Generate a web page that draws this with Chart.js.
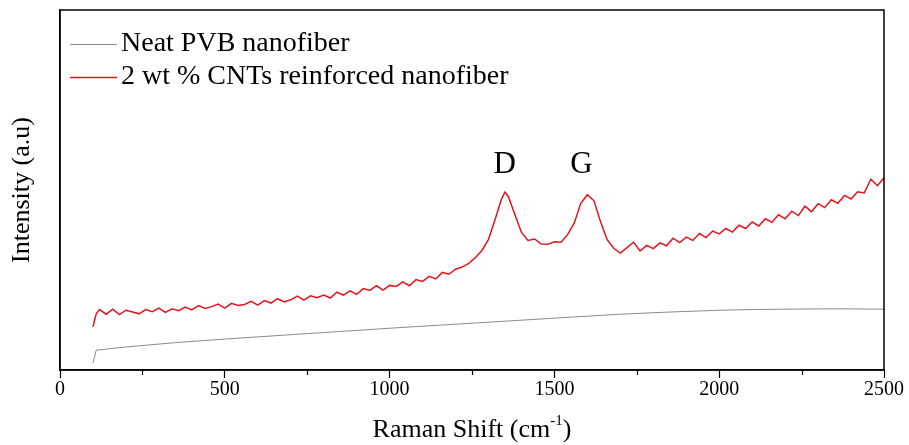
<!DOCTYPE html>
<html>
<head>
<meta charset="utf-8">
<script src="https://cdn.jsdelivr.net/npm/chart.js@4.4.1/dist/chart.umd.min.js"></script>
<style>
  html, body { margin: 0; padding: 0; background: #ffffff; }
  #wrap { width: 909px; height: 445px; }
</style>
</head>
<body>
<div id="wrap"><canvas id="c" width="909" height="445"></canvas></div>
<script>
// ---- Data (intensity in arbitrary units, 0–100 scale) ----
const seriesLabels = ['Neat PVB nanofiber', '2 wt % CNTs reinforced nanofiber'];

const pvbShift     = [100, 110, 200, 350, 500, 750, 1000, 1250, 1500, 1700, 1850, 2000, 2100, 2200, 2350, 2500];
const pvbIntensity = [1.9, 5.5, 6.4, 7.6, 8.6, 10.1, 11.6, 13.0, 14.4, 15.5, 16.1, 16.6, 16.8, 16.9, 17.0, 16.9];

const cntShift = [100, 110, 120, 140, 160, 180, 200, 220, 240, 260, 280, 300, 320, 340, 360, 380, 400, 420, 440, 460, 480,
  500, 520, 540, 560, 580, 600, 620, 640, 660, 680, 700, 720, 740, 760, 780, 800, 820, 840, 860, 880,
  900, 920, 940, 960, 980, 1000, 1020, 1040, 1060, 1080, 1100, 1120, 1140, 1160, 1180, 1200, 1220, 1240, 1260, 1280,
  1300, 1320, 1340, 1350, 1360, 1380, 1400, 1420, 1440, 1460, 1480, 1500, 1520, 1540, 1560, 1580, 1600, 1620, 1640, 1660, 1680,
  1700, 1720, 1740, 1760, 1780, 1800, 1820, 1840, 1860, 1880, 1900, 1920, 1940, 1960, 1980, 2000, 2020, 2040, 2060, 2080,
  2100, 2120, 2140, 2160, 2180, 2200, 2220, 2240, 2260, 2280, 2300, 2320, 2340, 2360, 2380, 2400, 2420, 2440, 2460, 2480, 2500];
const cntIntensity = [12.0, 15.7, 16.8, 15.5, 16.9, 15.4, 16.6, 16.1, 15.6, 16.8, 16.2, 17.2, 16.0, 17.0, 16.5, 17.5, 16.7, 17.9, 17.1, 17.6, 18.3,
  17.2, 18.5, 17.9, 18.2, 19.1, 18.0, 19.3, 18.6, 19.8, 18.9, 19.5, 20.5, 19.4, 20.6, 20.1, 20.8, 20.0, 21.6, 20.8, 22.0,
  21.0, 22.6, 22.1, 23.4, 22.2, 23.5, 23.2, 24.5, 23.4, 25.1, 24.6, 26.0, 25.3, 27.1, 26.6, 28.0, 28.6, 29.6, 31.2, 33.2,
  36.3, 41.8, 47.6, 49.4, 48.2, 43.2, 38.2, 36.0, 36.4, 35.0, 34.9, 35.6, 35.5, 37.6, 40.8, 46.3, 48.7, 47.0, 41.2, 36.2, 33.8,
  32.5, 34.0, 35.5, 33.1, 34.6, 33.7, 35.3, 34.5, 36.6, 35.4, 36.9, 36.0, 37.9, 36.8, 38.6, 37.8, 39.3, 38.3, 40.2, 39.3,
  41.1, 40.0, 42.0, 41.0, 43.1, 42.0, 44.1, 42.9, 45.5, 44.0, 46.2, 45.1, 47.3, 46.3, 48.5, 47.5, 49.5, 49.2, 53.0, 51.2, 53.4];

const xMajorTicks = [0, 500, 1000, 1500, 2000, 2500];
const xMinorTicks = [250, 750, 1250, 1750, 2250];

const peakLabels = ['D', 'G'];
const peakShift  = [1349, 1582];
const peakLabelLevel = 57;

const SERIF = "'Liberation Serif', 'Times New Roman', serif";

const framePlugin = {
  id: 'frame',
  afterDraw(chart) {
    const { ctx, chartArea: a, scales } = chart;
    const xs = scales.x, ys = scales.y;
    ctx.save();
    // box
    ctx.strokeStyle = '#000';
    ctx.lineWidth = 1.5;
    ctx.strokeRect(a.left, a.top, a.right - a.left, a.bottom - a.top);
    // minor ticks
    ctx.lineWidth = 1.2;
    xMinorTicks.forEach(v => {
      const px = Math.round(xs.getPixelForValue(v)) + 0.5;
      ctx.beginPath();
      ctx.moveTo(px, a.bottom);
      ctx.lineTo(px, a.bottom + 5);
      ctx.stroke();
    });
    // peak labels
    ctx.fillStyle = '#000';
    ctx.font = '31px ' + SERIF;
    ctx.textAlign = 'center';
    ctx.textBaseline = 'middle';
    peakLabels.forEach((t, i) => {
      ctx.fillText(t, xs.getPixelForValue(peakShift[i]), ys.getPixelForValue(peakLabelLevel));
    });
    // legend
    ctx.font = '28px ' + SERIF;
    ctx.textAlign = 'left';
    chart.data.datasets.forEach((ds, i) => {
      const y = Math.round(a.top + 34 + i * 33);
      ctx.strokeStyle = ds.borderColor;
      ctx.lineWidth = i === 0 ? 1 : 1.5;
      ctx.beginPath();
      ctx.moveTo(a.left + 10, y + 0.5);
      ctx.lineTo(a.left + 57, y + 0.5);
      ctx.stroke();
      ctx.fillText(ds.label, a.left + 61, y);
    });
    // x axis title with superscript
    const cx = (a.left + a.right) / 2;
    const ty = 428;
    ctx.font = '26px ' + SERIF;
    const part1 = 'Raman Shift (cm';
    const sup = '-1';
    const part3 = ')';
    const w1 = ctx.measureText(part1).width;
    const w3 = ctx.measureText(part3).width;
    ctx.font = '15px ' + SERIF;
    const w2 = ctx.measureText(sup).width;
    let x0 = cx - (w1 + w2 + w3) / 2;
    ctx.textBaseline = 'alphabetic';
    ctx.font = '26px ' + SERIF;
    ctx.fillText(part1, x0, ty + 9);
    ctx.font = '15px ' + SERIF;
    ctx.fillText(sup, x0 + w1, ty - 3);
    ctx.font = '26px ' + SERIF;
    ctx.fillText(part3, x0 + w1 + w2, ty + 9);
    // y axis title
    ctx.save();
    ctx.translate(22, (a.top + a.bottom) / 2);
    ctx.rotate(-Math.PI / 2);
    ctx.textAlign = 'center';
    ctx.textBaseline = 'middle';
    ctx.font = '26px ' + SERIF;
    ctx.fillText('Intensity (a.u)', 0, 0);
    ctx.restore();
    ctx.restore();
  }
};

new Chart(document.getElementById('c'), {
  type: 'line',
  data: {
    datasets: [
      {
        label: seriesLabels[0],
        data: pvbShift.map((x, i) => ({ x, y: pvbIntensity[i] })),
        borderColor: '#8a8a8a',
        borderWidth: 1,
        pointRadius: 0,
        tension: 0
      },
      {
        label: seriesLabels[1],
        data: cntShift.map((x, i) => ({ x, y: cntIntensity[i] })),
        borderColor: '#e4141e',
        borderWidth: 1.5,
        pointRadius: 0,
        tension: 0
      }
    ]
  },
  options: {
    responsive: false,
    animation: false,
    layout: { padding: { top: 10, right: 25, left: 0, bottom: 0 } },
    plugins: { legend: { display: false }, tooltip: { enabled: false } },
    scales: {
      x: {
        type: 'linear',
        min: 0, max: 2500,
        afterBuildTicks: s => { s.ticks = xMajorTicks.map(v => ({ value: v })); },
        afterFit: s => { s.height = 75; },
        ticks: { color: '#000', font: { family: SERIF, size: 20 }, padding: 0, maxRotation: 0, autoSkip: false,
                 callback: v => String(v) },
        grid: { drawOnChartArea: false, tickLength: 8, tickColor: '#000', tickWidth: 1.2 },
        border: { color: '#000', width: 1.5 }
      },
      y: {
        type: 'linear',
        min: 0, max: 100,
        afterFit: s => { s.width = 60; },
        ticks: { display: false },
        grid: { display: false },
        border: { color: '#000', width: 1.5 }
      }
    }
  },
  plugins: [framePlugin]
});
</script>
</body>
</html>
